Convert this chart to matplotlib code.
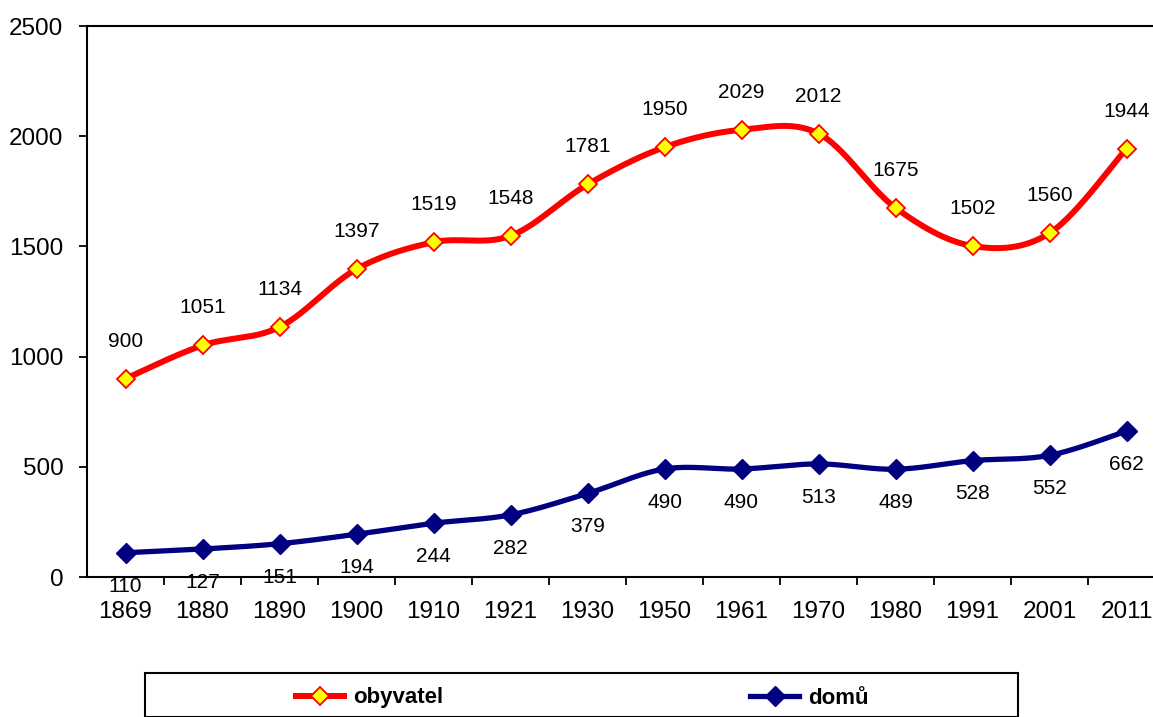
import numpy as np
import matplotlib
matplotlib.use("Agg")
import matplotlib.pyplot as plt
from matplotlib.lines import Line2D
from matplotlib.patches import Rectangle

plt.rcParams['font.family'] = ['Liberation Sans', 'DejaVu Sans']

# census years and counts
years = ['1869', '1880', '1890', '1900', '1910', '1921', '1930',
         '1950', '1961', '1970', '1980', '1991', '2001', '2011']
obyvatel = [900, 1051, 1134, 1397, 1519, 1548, 1781, 1950, 2029, 2012, 1675, 1502, 1560, 1944]
domu = [110, 127, 151, 194, 244, 282, 379, 490, 490, 513, 489, 528, 552, 662]


def smooth(x, y, steps=30):
    # Excel-style smoothed line (uniform Catmull-Rom bezier)
    p = np.column_stack([x, y]).astype(float)
    p = np.vstack([p[0], p, p[-1]])
    out = []
    for i in range(1, len(p) - 2):
        p0, p1, p2, p3 = p[i - 1], p[i], p[i + 1], p[i + 2]
        c1 = p1 + (p2 - p0) / 6.0
        c2 = p2 - (p3 - p1) / 6.0
        t = np.linspace(0, 1, steps)[:, None]
        seg = ((1 - t) ** 3) * p1 + 3 * ((1 - t) ** 2) * t * c1 + 3 * (1 - t) * t ** 2 * c2 + t ** 3 * p2
        out.append(seg if i == 1 else seg[1:])
    out = np.vstack(out)
    return out[:, 0], out[:, 1]


W, H = 1153, 717
fig = plt.figure(figsize=(W / 100, H / 100), dpi=100)
ax = fig.add_axes([87 / W, 1 - 577 / H, 1078 / W, 551 / H])

x = np.arange(len(years))
red, yellow, navy = '#FF0000', '#FFFF00', '#000080'

sx, sy = smooth(x, obyvatel)
ax.plot(sx, sy, color=red, lw=4.3, solid_capstyle='round', zorder=3)
ax.plot(x, obyvatel, 'D', ms=9, mfc=yellow, mec=red, mew=1.3, zorder=4)

sx, sy = smooth(x, domu)
ax.plot(sx, sy, color=navy, lw=3.8, solid_capstyle='round', zorder=3)
ax.plot(x, domu, 'D', ms=10, mfc=navy, mec=navy, zorder=4)

for xi, v in zip(x, obyvatel):
    ax.annotate(str(v), (xi, v), xytext=(0, 27), textcoords='offset points',
                ha='center', va='center', fontsize=15, zorder=5)
for xi, v in zip(x, domu):
    ax.annotate(str(v), (xi, v), xytext=(0, -24), textcoords='offset points',
                ha='center', va='center', fontsize=15, zorder=5)

ax.set_xlim(-0.5, len(years) - 0.5)
ax.set_ylim(0, 2500)
ax.set_yticks(range(0, 2501, 500))
ax.set_xticks(x)
ax.set_xticklabels(years)
ax.set_xticks(np.arange(len(years)) + 0.5, minor=True)
ax.tick_params(axis='x', which='major', length=0, pad=17, labelsize=17.5)
ax.tick_params(axis='x', which='minor', length=6, width=1.3, direction='out')
ax.tick_params(axis='y', length=6, width=1.3, direction='out', pad=11, labelsize=17.5)

for s in ['left', 'bottom', 'top']:
    ax.spines[s].set_linewidth(1.5)
    ax.spines[s].set_color('black')
ax.spines['right'].set_visible(False)

# legend box at the bottom
fig.patches.append(Rectangle((145 / W, 0), (1018 - 145) / W, (H - 673) / H,
                             transform=fig.transFigure, fill=False,
                             edgecolor='black', lw=1.5))
handles = [
    Line2D([], [], color=red, lw=4.3, marker='D', ms=9, mfc=yellow, mec=red, mew=1.3),
    Line2D([], [], color=navy, lw=3.8, marker='D', ms=10, mfc=navy, mec=navy),
]
fig.legend(handles, ['obyvatel', 'domů'], loc='center', ncol=2,
           bbox_to_anchor=(582 / W, 1 - 698 / H), frameon=False,
           prop={'weight': 'bold', 'size': 16}, handlelength=2.2,
           handletextpad=0.4, columnspacing=13.8)

fig.savefig('out.png', dpi=100)
